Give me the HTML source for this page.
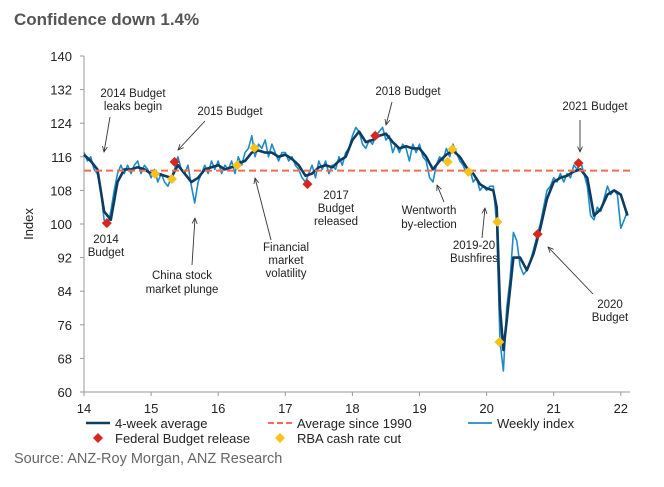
<!DOCTYPE html>
<html><head><meta charset="utf-8"><style>
body{margin:0;background:#fff;width:664px;height:482px;overflow:hidden;font-family:"Liberation Sans",sans-serif}
svg text{font-family:"Liberation Sans",sans-serif}
</style></head><body>
<svg id="chart" width="664" height="482">
<defs><marker id="ah" viewBox="0 0 10 10" refX="9" refY="5" markerWidth="7" markerHeight="7" orient="auto"><path d="M0,1 L9,5 L0,9" fill="none" stroke="#333" stroke-width="1.3"/></marker></defs>
<text x="14" y="25" font-size="17" font-weight="bold" fill="#555">Confidence down 1.4%</text>
<g id="axes"></g><g id="annot"></g><g id="series"></g><g id="legend"></g>
<text x="14" y="463" font-size="14.5" fill="#666">Source: ANZ-Roy Morgan, ANZ Research</text>
</svg>
<script>
const yTicks=[60,68,76,84,92,100,108,116,124,132,140];
const xTicks=[14,15,16,17,18,19,20,21,22];
const avgSince1990=112.7;
const avgDates=[14.0,14.1,14.2,14.3,14.4,14.5,14.6,14.7,14.8,14.9,15.0,15.1,15.2,15.3,15.4,15.5,15.6,15.7,15.8,15.9,16.0,16.1,16.2,16.3,16.4,16.5,16.6,16.7,16.8,16.9,17.0,17.1,17.2,17.3,17.4,17.5,17.6,17.7,17.8,17.9,18.0,18.1,18.2,18.3,18.4,18.5,18.6,18.7,18.8,18.9,19.0,19.1,19.2,19.3,19.4,19.5,19.6,19.7,19.8,19.9,20.0,20.1,20.15,20.2,20.25,20.3,20.4,20.5,20.6,20.7,20.8,20.9,21.0,21.1,21.2,21.3,21.4,21.5,21.6,21.7,21.8,21.9,22.0,22.1];
const avgValues=[116.5,115,113,103,101,110,113,113,113.5,113,112,112,111.5,111,114,112,110,111,113,113.5,114,113,113.5,114.5,115,117,117.5,117,117,116,116.5,115.5,114,111.5,112,113.5,114,113.5,115,116,120,122,119.5,120,121,121.5,119.5,118,118.5,118,118,116,113,115,116.5,117.5,116,113.5,112,109.5,108.5,108,104,80,70,77,92,92,89,93,99,106,110,111,111.5,112.5,113,111,102,103.5,107,108,107,102];
const weeklyStart=14.0, weeklyStep=0.05;
const weeklyValues=[117,115,116,113,112,108,101,99.5,103,108,112,114,112,114,112,114,115,112,114,113,111,113,110,112,110,109,111,113,116,113,112,114,109,105,110,112,114,112,115,113,115,112,114,113,115,112,116,114,117,118,121,116,119,118,120,116,119,117,115,117,117,115,116,114,113,111,110,112,114,111,115,113,115,112,114,113,116,114,117,118,121,123,122,119,118,120,119,121,122,123,120,121,117,119,117,119,118,115,119,117,119,116,115,111,110,114,116,115,118,116,119,117,115,114,112,113,110,111,108,109,108,109,109,100,72,65,80,87,98,96,90,88,89,91,94,97,100,104,108,109,111,110,112,110,112,111,114,113,115,112,109,102,101,104,103,106,109,107,108,107,99,101,103];
const budgetDates=[14.34,15.35,17.33,18.34,20.76,21.37];
const budgetValues=[100.2,114.8,109.5,121,97.6,114.5];
const rbaDates=[15.06,15.31,16.28,16.54,19.42,19.49,19.73,20.16,20.19];
const rbaValues=[111.9,110.7,114,118.1,114.8,117.8,112.4,100.5,71.9];

const NS="http://www.w3.org/2000/svg";
const X=v=>84+(v-14)*67.1, Y=v=>56+(140-v)*4.2;
function mk(tag,attrs,parent,txt){const e=document.createElementNS(NS,tag);for(const k in attrs)e.setAttribute(k,attrs[k]);if(txt!==undefined)e.textContent=txt;parent.appendChild(e);return e;}
const axes=document.getElementById('axes'),ser=document.getElementById('series'),ann=document.getElementById('annot'),leg=document.getElementById('legend');
// axes
let a=mk('line',{x1:84,y1:56,x2:84,y2:392,stroke:'#999'},axes);


a=mk('line',{x1:84,y1:392,x2:630,y2:392,stroke:'#999'},axes);


yTicks.forEach(t=>{mk('line',{x1:80,y1:Y(t),x2:84,y2:Y(t),stroke:'#999'},axes);
 const l=mk('text',{x:72,y:Y(t)+5,'font-size':13,'text-anchor':'end',fill:'#222'},axes,t);
 
 });
xTicks.forEach(t=>{mk('line',{x1:X(t),y1:392,x2:X(t),y2:396,stroke:'#999'},axes);
 const l=mk('text',{x:X(t),y:413,'font-size':13,'text-anchor':'middle',fill:'#222'},axes,t);
 
 });
const yt=mk('text',{x:33,y:224,'font-size':13,'text-anchor':'middle',fill:'#222',transform:'rotate(-90 33 224)'},axes,'Index');


// series
const wpts=weeklyValues.map((v,i)=>X(weeklyStart+i*weeklyStep).toFixed(1)+','+Y(v).toFixed(1)).join(' ');
const wl=mk('polyline',{points:wpts,fill:'none',stroke:'#1f8ac6','stroke-width':1.6,'stroke-linejoin':'round'},ser);


const apts=avgValues.map((v,i)=>X(avgDates[i]).toFixed(1)+','+Y(v).toFixed(1)).join(' ');
const al=mk('polyline',{points:apts,fill:'none',stroke:'#0d3c62','stroke-width':2.6,'stroke-linejoin':'round'},ser);


const ref=mk('line',{x1:84,y1:Y(avgSince1990),x2:630,y2:Y(avgSince1990),stroke:'#f26d4f','stroke-width':2,'stroke-dasharray':'7,4'},ser);


function diamond(x,y,c,p){return mk('path',{d:`M${x},${y-5}L${x+5},${y}L${x},${y+5}L${x-5},${y}Z`,fill:c},p);}
budgetDates.forEach((d,i)=>{const m=diamond(X(d),Y(budgetValues[i]),'#d7261e',ser);
 
 });
rbaDates.forEach((d,i)=>{const m=diamond(X(d),Y(rbaValues[i]),'#f8c21a',ser);
 
 });
// annotations
const notes=[
 ['note-2014-budget-leaks',133,[97,110],['2014 Budget','leaks begin'],[110,117,104,152]],
 ['note-2015-budget',230,[115],['2015 Budget'],[205,121,178,150]],
 ['note-2014-budget',106,[243,256],['2014','Budget'],null],
 ['note-china-stock',182,[279,293],['China stock','market plunge'],[192,265,195,218]],
 ['note-financial-volatility',286,[251,264,277],['Financial','market','volatility'],[271,240,255,178]],
 ['note-2017-budget',336,[199,212,225],['2017','Budget','released'],null],
 ['note-2018-budget',408,[95],['2018 Budget'],[392,102,386,125]],
 ['note-wentworth',429,[214,228],['Wentworth','by-election'],[444,202,437,185]],
 ['note-bushfires',474,[249,262],['2019-20','Bushfires'],[482,238,485,208]],
 ['note-2021-budget',595,[110],['2021 Budget'],[580,120,580,152]],
 ['note-2020-budget',610,[308,321],['2020','Budget'],[593,294,548,247]]];
notes.forEach(n=>{const g=mk('g',{},ann);
 
 
 n[3].forEach((t,i)=>mk('text',{x:n[1],y:n[2][i],'font-size':11.5,'text-anchor':'middle',fill:'#222'},g,t));
 if(n[4])mk('line',{x1:n[4][0],y1:n[4][1],x2:n[4][2],y2:n[4][3],stroke:'#333','stroke-width':0.9,'marker-end':'url(#ah)'},g);});
// legend
function legItem(name,x,y,label,kind){const g=mk('g',{},leg);
 
 
 if(kind==='avg')mk('line',{x1:x,y1:y,x2:x+24,y2:y,stroke:'#0d3c62','stroke-width':2.6},g);
 if(kind==='ref')mk('line',{x1:x,y1:y,x2:x+24,y2:y,stroke:'#f26d4f','stroke-width':2,'stroke-dasharray':'6,3'},g);
 if(kind==='wk')mk('line',{x1:x,y1:y,x2:x+24,y2:y,stroke:'#1f8ac6','stroke-width':1.8},g);
 if(kind==='bud')diamond(x+12,y,'#d7261e',g);
 if(kind==='rba')diamond(x+12,y,'#f8c21a',g);
 mk('text',{x:x+29,y:y+5,'font-size':13,fill:'#222'},g,label);}
legItem('legend-4-week-average',86,423,'4-week average','avg');
legItem('legend-average-since-1990',268,423,'Average since 1990','ref');
legItem('legend-weekly-index',468,423,'Weekly index','wk');
legItem('legend-federal-budget',86,438,'Federal Budget release','bud');
legItem('legend-rba-cut',268,438,'RBA cash rate cut','rba');
</script>
</body></html>
